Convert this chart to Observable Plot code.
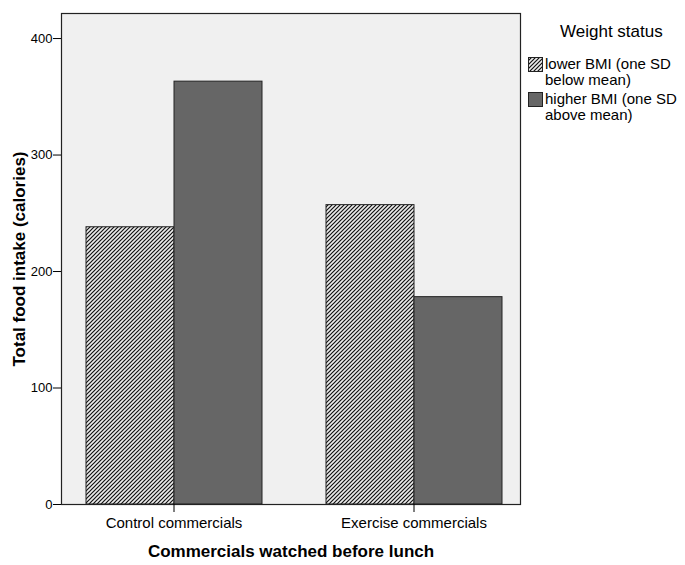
<!DOCTYPE html>
<html><head><meta charset="utf-8">
<script src="https://cdn.jsdelivr.net/npm/d3@7"></script>
<script src="https://cdn.jsdelivr.net/npm/@observablehq/plot@0.6"></script>
<style>
body{margin:0;background:#fff;font-family:"Liberation Sans",Arial,sans-serif;}
#wrap{position:relative;width:685px;height:565px;overflow:hidden;}
#chart svg{display:block;}
g[aria-label$="axis label"]{font-weight:bold;font-size:17px;}
#legend{position:absolute;left:0;top:0;color:#000;}
.ltitle{position:absolute;left:560px;top:23px;font-size:17px;line-height:17px;white-space:nowrap;}
.litem{position:absolute;left:528px;width:157px;}
.litem svg{position:absolute;left:0;top:1px;}
.litem div{position:absolute;left:17px;top:0;font-size:15px;line-height:15.5px;white-space:nowrap;}
</style></head><body>
<div id="wrap"><div id="chart"></div><div id="legend"></div></div>
<script>
const commercials = ["Control commercials", "Exercise commercials"];
const statuses = ["lower BMI (one SD below mean)", "higher BMI (one SD above mean)"];
const legendLines = [["lower BMI (one SD", "below mean)"], ["higher BMI (one SD", "above mean)"]];
const lowerBMI = [238, 257];
const higherBMI = [363, 178];
const yTicks = [0, 100, 200, 300, 400];
const statusFill = ["url(#hatch)", "#666666"];

const data = commercials.flatMap((c, i) => [
  {commercial: c, status: statuses[0], value: lowerBMI[i]},
  {commercial: c, status: statuses[1], value: higherBMI[i]}
]);

const plot = Plot.plot({
  width: 685, height: 565,
  marginLeft: 60, marginRight: 164, marginTop: 13, marginBottom: 61,
  style: {fontFamily: '"Liberation Sans", Arial, sans-serif', color: "#000", background: "transparent", overflow: "visible"},
  fx: {domain: commercials, paddingInner: 0.0871, paddingOuter: 0, label: null},
  x: {domain: statuses, paddingInner: 0, paddingOuter: 0.236, align: 0.571, axis: null},
  y: {domain: [0, 421.5]},
  color: {type: "identity"},
  marks: [
    Plot.frame({facet: "super", fill: "#f0f0f0"}),
    Plot.barY(data, {fx: "commercial", x: "status", y: "value",
      fill: d => statusFill[statuses.indexOf(d.status)], stroke: "#222", strokeWidth: 1}),
    Plot.frame({facet: "super", stroke: "#222", strokeWidth: 1.2}),
    Plot.axisY({ticks: yTicks, tickSize: 8, tickPadding: 1, fontSize: 13,
      label: "Total food intake (calories)", labelAnchor: "center", labelArrow: "none", labelOffset: 49}),
    Plot.axisFx({anchor: "bottom", tickSize: 8, tickPadding: 5, fontSize: 15, dx: 3,
      label: "Commercials watched before lunch", labelAnchor: "center", labelArrow: "none", labelOffset: 52})
  ]
});

// hatch pattern definition
const defs = d3.select(plot).insert("defs", ":first-child");
const pat = defs.append("pattern").attr("id", "hatch").attr("patternUnits", "userSpaceOnUse")
  .attr("width", 4).attr("height", 4);
pat.append("rect").attr("width", 4).attr("height", 4).attr("fill", "#ececec");
pat.append("path").attr("d", "M-1,1 l2,-2 M0,4 l4,-4 M3,5 l2,-2").attr("stroke", "#111").attr("stroke-width", 1.2);

document.getElementById("chart").append(plot);

// legend
const legend = d3.select("#legend");
legend.append("div").attr("class", "ltitle").text("Weight status");
const tops = [56, 91];
statuses.forEach((s, i) => {
  const item = legend.append("div").attr("class", "litem").style("top", tops[i] + "px");
  const sw = item.append("svg").attr("width", 15).attr("height", 15);
  sw.append("rect").attr("x", 0.5).attr("y", 0.5).attr("width", 14).attr("height", 14)
    .attr("fill", statusFill[i]).attr("stroke", "#222");
  item.append("div").html(legendLines[i].join("<br>"));
});
</script>
</body></html>
